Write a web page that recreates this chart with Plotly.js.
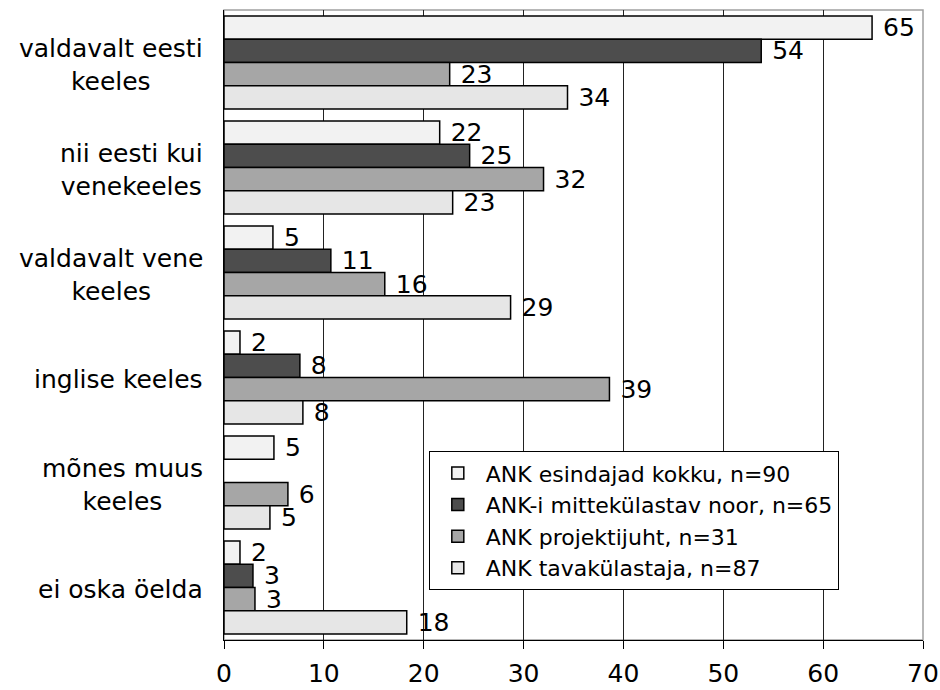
<!DOCTYPE html>
<html>
<head>
<meta charset="utf-8">
<script src="https://cdn.plot.ly/plotly-3.0.1.min.js"></script>
<style>html,body{margin:0;padding:0;background:#fff;}#chart{width:940px;height:690px;}</style>
</head>
<body>
<div id="chart"></div>
<script>
const categories = ["valdavalt eesti<br>keeles", "nii eesti kui<br>venekeeles", "valdavalt vene<br>keeles", "inglise keeles", "mõnes muus<br>keeles", "ei oska öelda"];
const seriesNames = ["ANK esindajad kokku, n=90", "ANK-i mittekülastav noor, n=65", "ANK projektijuht, n=31", "ANK tavakülastaja, n=87"];
const esindajadKokku = [64.9, 21.6, 4.9, 1.6, 5.0, 1.6];
const mittekulastavNoor = [53.8, 24.6, 10.7, 7.6, null, 2.9];
const projektijuht = [22.6, 32.0, 16.1, 38.6, 6.4, 3.1];
const tavakulastaja = [34.4, 22.9, 28.7, 7.9, 4.6, 18.3];
const xTicks = [0, 10, 20, 30, 40, 50, 60, 70];

const seriesValues = [esindajadKokku, mittekulastavNoor, projektijuht, tavakulastaja];
const colors = ["#f2f2f2", "#4d4d4d", "#a6a6a6", "#e6e6e6"];
const FONT = "DejaVu Sans, Verdana, sans-serif";

const traces = seriesValues.map((vals, i) => ({
  type: "bar",
  orientation: "h",
  name: seriesNames[i],
  y: categories,
  x: vals,
  marker: {color: colors[i], line: {color: "#000", width: 1.5}},
  texttemplate: "\u00a0%{x:.0f}",
  textposition: "outside",
  constraintext: "none",
  cliponaxis: false,
  textfont: {family: FONT, size: 25, color: "#000"},
  hoverinfo: "x+name"
}));

const annotations = categories.map(c => ({
  xref: "paper", yref: "y", x: 0, y: c,
  xanchor: "right", yanchor: "middle", xshift: -19, yshift: -2,
  align: "center", showarrow: false,
  text: c,
  font: {family: FONT, size: 25, color: "#000"}
}));

const layout = {
  width: 940, height: 690,
  margin: {l: 224, r: 16.5, t: 9.5, b: 50},
  paper_bgcolor: "#fff", plot_bgcolor: "#fff",
  barmode: "group", bargap: 0.112, bargroupgap: 0,
  font: {family: FONT, size: 25, color: "#000"},
  showlegend: true,
  legend: {
    x: 0.293, y: 0.2998, xanchor: "left", yanchor: "top",
    bgcolor: "#fff", bordercolor: "#000", borderwidth: 1,
    font: {family: FONT, size: 22, color: "#000"},
    traceorder: "normal", itemwidth: 46
  },
  xaxis: {
    range: [0, 70], tickvals: xTicks, ticktext: xTicks.map(String),
    showgrid: true, gridcolor: "#222", gridwidth: 1,
    showline: true, linecolor: "#000", linewidth: 1,
    ticks: "outside", ticklen: 8, tickcolor: "#000", tickwidth: 1,
    ticklabelstandoff: 3,
    tickfont: {family: FONT, size: 25, color: "#000"},
    zeroline: false, fixedrange: true
  },
  yaxis: {
    type: "category", categoryorder: "array", categoryarray: categories,
    autorange: "reversed", showticklabels: false,
    showline: true, linecolor: "#000", linewidth: 1,
    showgrid: false, zeroline: false, ticks: "", fixedrange: true
  },
  shapes: [{
    type: "rect", xref: "paper", yref: "paper", x0: 0, x1: 1, y0: 0, y1: 1,
    line: {color: "#a0a0a0", width: 1.5}, layer: "below"
  }],
  annotations: annotations
};

Plotly.newPlot("chart", traces, layout, {displayModeBar: false, staticPlot: true});
</script>
</body>
</html>
